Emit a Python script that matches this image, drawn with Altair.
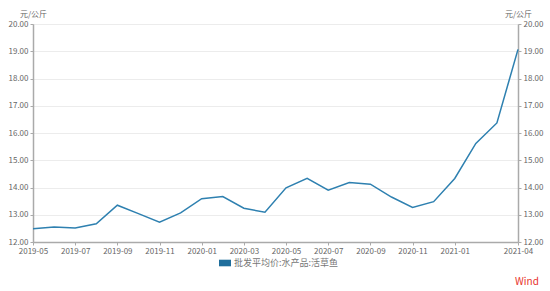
import altair as alt
import pandas as pd

months = ["2019-05","2019-06","2019-07","2019-08","2019-09","2019-10","2019-11","2019-12",
          "2020-01","2020-02","2020-03","2020-04","2020-05","2020-06","2020-07","2020-08",
          "2020-09","2020-10","2020-11","2020-12","2021-01","2021-02","2021-03","2021-04"]
values = [12.49, 12.55, 12.51, 12.67, 13.35, 13.04, 12.73, 13.07,
          13.59, 13.67, 13.24, 13.09, 13.99, 14.34, 13.90, 14.18,
          14.12, 13.65, 13.27, 13.48, 14.33, 15.62, 16.37, 19.07]
tick_labels = ["2019-05","2019-07","2019-09","2019-11","2020-01","2020-03",
               "2020-05","2020-07","2020-09","2020-11","2021-01","2021-04"]
y_ticks = [12, 13, 14, 15, 16, 17, 18, 19, 20]
series = "批发平均价:水产品:活草鱼"

df = pd.DataFrame({"month": months, "value": values, "series": series})

FONT = "Noto Sans CJK SC"
LINE = "#2e80b0"
AX = "#aaaaaa"
LAB = "#666666"

x = alt.X("month:O", scale=alt.Scale(type="point", padding=0),
          axis=alt.Axis(values=tick_labels, labelAngle=0, title=None, labelFontSize=8,
                        labelColor=LAB, labelFont=FONT, domainColor=AX, domainWidth=1.5,
                        tickColor=AX, tickSize=3, labelPadding=2, grid=False))

def yaxis(orient):
    return alt.Axis(orient=orient, values=y_ticks, format=".2f", title="元/公斤",
                    titleAngle=0, titleX=0, titleY=-10, titleAlign="center",
                    titleBaseline="middle", titleFontSize=8, titleFontWeight="normal",
                    titleColor=LAB, titleFont=FONT, labelFontSize=8, labelColor=LAB,
                    labelFont=FONT, domainColor=AX, domainWidth=1.5, tickColor=AX,
                    tickSize=3, labelPadding=2, grid=(orient == "left"),
                    gridColor="#ececec", gridWidth=1)

yscale = alt.Scale(domain=[12, 20], nice=False, zero=False)

left = alt.Chart(df).mark_line(strokeWidth=1.5).encode(
    x=x,
    y=alt.Y("value:Q", scale=yscale, axis=yaxis("left")),
    color=alt.Color("series:N", scale=alt.Scale(range=[LINE]),
                    legend=alt.Legend(title=None, orient="none", legendX=186, legendY=233,
                                      symbolType="M-1,-0.55H1V0.55H-1Z", symbolSize=144,
                                      symbolFillColor="#1f6e9c", symbolStrokeWidth=0,
                                      labelOffset=3, labelFont=FONT, labelFontSize=9,
                                      labelColor="#777777", labelLimit=300)),
)

right = alt.Chart(df).mark_line(strokeWidth=1.5, opacity=0).encode(
    x=x,
    y=alt.Y("value:Q", scale=yscale, axis=yaxis("right")),
)

wind = alt.Chart(pd.DataFrame({"t": ["Wind"]})).mark_text(
    color="#e8342e", fontSize=10, font=FONT, align="center", baseline="middle"
).encode(x=alt.value(494), y=alt.value(258), text="t:N")

chart = alt.layer(left, right, wind).resolve_scale(y="independent").properties(
    width=485, height=218,
    autosize=alt.AutoSizeParams(type="none"),
    padding={"left": 33, "top": 24, "right": 32, "bottom": 49},
).configure_view(stroke=None).configure(background="white")

chart.save("out.html", embed_options={"renderer": "svg", "actions": False})
